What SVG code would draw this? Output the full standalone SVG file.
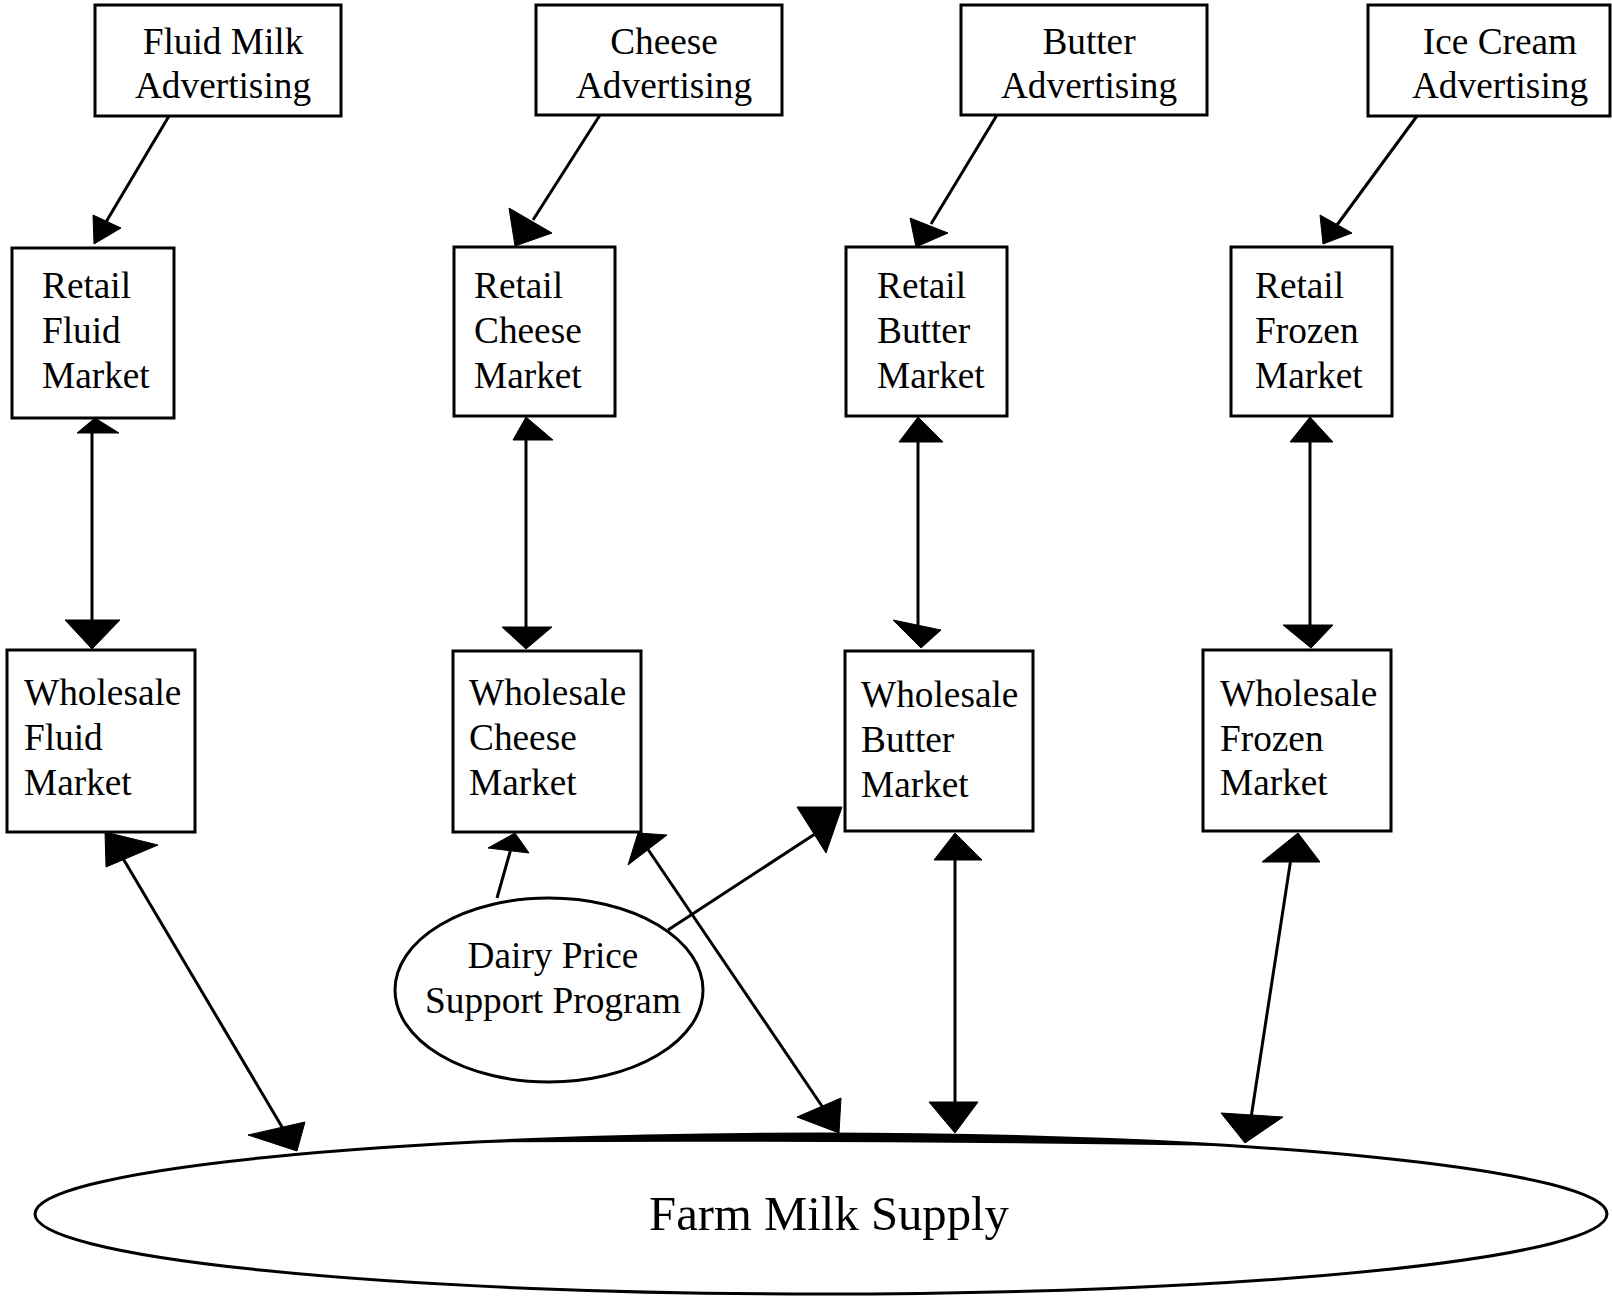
<svg xmlns="http://www.w3.org/2000/svg" width="1612" height="1296" viewBox="0 0 1612 1296">
<style>
.box{fill:#fff;stroke:#000;stroke-width:3}
.ell{fill:#fff;stroke:#000;stroke-width:3}
.t{font-family:"Liberation Serif","Times New Roman",serif;font-size:37.3px;fill:#000}
.c{text-anchor:middle}
.big{font-size:48.7px}
.ln{stroke:#000;stroke-width:3;fill:none}
.hd{fill:#000;stroke:#000;stroke-width:1;stroke-linejoin:round}
</style>
<rect width="1612" height="1296" fill="#fff"/>

<g id="farm">
<ellipse class="ell" cx="821" cy="1214" rx="786" ry="80"/>
<path d="M470,1142.4 A786,80 0 0 1 1235,1146 Q850,1140 470,1142.4 Z" fill="#000"/>
<text class="t c big" x="829" y="1230">Farm Milk Supply</text>
</g>

<g id="adv-fluid">
<rect class="box" x="95" y="5" width="246" height="111"/>
<text class="t c" x="223" y="54">Fluid Milk</text>
<text class="t c" x="223" y="98">Advertising</text>
</g>
<g id="adv-cheese">
<rect class="box" x="536" y="5" width="246" height="110"/>
<text class="t c" x="664" y="54">Cheese</text>
<text class="t c" x="664" y="98">Advertising</text>
</g>
<g id="adv-butter">
<rect class="box" x="961" y="5" width="246" height="110"/>
<text class="t c" x="1089" y="54">Butter</text>
<text class="t c" x="1089" y="98">Advertising</text>
</g>
<g id="adv-icecream">
<rect class="box" x="1368" y="5" width="242" height="111"/>
<text class="t c" x="1500" y="54">Ice Cream</text>
<text class="t c" x="1500" y="98">Advertising</text>
</g>

<g id="retail-fluid">
<rect class="box" x="12" y="248" width="162" height="170"/>
<text class="t" x="42" y="298">Retail</text>
<text class="t" x="42" y="343">Fluid</text>
<text class="t" x="42" y="388">Market</text>
</g>
<g id="retail-cheese">
<rect class="box" x="454" y="247" width="161" height="169"/>
<text class="t" x="474" y="298">Retail</text>
<text class="t" x="474" y="343">Cheese</text>
<text class="t" x="474" y="388">Market</text>
</g>
<g id="retail-butter">
<rect class="box" x="846" y="247" width="161" height="169"/>
<text class="t" x="877" y="298">Retail</text>
<text class="t" x="877" y="343">Butter</text>
<text class="t" x="877" y="388">Market</text>
</g>
<g id="retail-frozen">
<rect class="box" x="1231" y="247" width="161" height="169"/>
<text class="t" x="1255" y="298">Retail</text>
<text class="t" x="1255" y="343">Frozen</text>
<text class="t" x="1255" y="388">Market</text>
</g>

<g id="wholesale-fluid">
<rect class="box" x="7" y="650" width="188" height="182"/>
<text class="t" x="24" y="705">Wholesale</text>
<text class="t" x="24" y="750">Fluid</text>
<text class="t" x="24" y="795">Market</text>
</g>
<g id="wholesale-cheese">
<rect class="box" x="453" y="651" width="188" height="181"/>
<text class="t" x="469" y="705">Wholesale</text>
<text class="t" x="469" y="750">Cheese</text>
<text class="t" x="469" y="795">Market</text>
</g>
<g id="wholesale-butter">
<rect class="box" x="845" y="651" width="188" height="180"/>
<text class="t" x="861" y="707">Wholesale</text>
<text class="t" x="861" y="752">Butter</text>
<text class="t" x="861" y="797">Market</text>
</g>
<g id="wholesale-frozen">
<rect class="box" x="1203" y="650" width="188" height="181"/>
<text class="t" x="1220" y="706">Wholesale</text>
<text class="t" x="1220" y="751">Frozen</text>
<text class="t" x="1220" y="795">Market</text>
</g>

<g id="dairy">
<ellipse class="ell" cx="549" cy="990" rx="154" ry="92"/>
<text class="t c" x="553" y="968">Dairy Price</text>
<text class="t c" x="553" y="1013">Support Program</text>
</g>

<g id="connectors">
<line class="ln" x1="169" y1="116" x2="106" y2="222"/>
<polygon class="hd" points="93,215 121,228 94,244"/>
<line class="ln" x1="600" y1="115" x2="533" y2="220"/>
<polygon class="hd" points="509,208 552,233 515,246"/>
<line class="ln" x1="997" y1="115" x2="931" y2="224"/>
<polygon class="hd" points="910,218 948,233 916,247"/>
<line class="ln" x1="1417" y1="116" x2="1337" y2="225"/>
<polygon class="hd" points="1320,215 1352,233 1323,244"/>

<line class="ln" x1="92" y1="430" x2="92" y2="625"/>
<polygon class="hd" points="95,418 77,433 119,433"/>
<polygon class="hd" points="65,620 120,620 92,649"/>
<line class="ln" x1="526" y1="435" x2="526" y2="630"/>
<polygon class="hd" points="526,417 513,440 553,440"/>
<polygon class="hd" points="502,627 552,627 526,649"/>
<line class="ln" x1="918" y1="437" x2="918" y2="625"/>
<polygon class="hd" points="918,417 899,442 943,442"/>
<polygon class="hd" points="893,620 941,630 921,648"/>
<line class="ln" x1="1310" y1="437" x2="1310" y2="628"/>
<polygon class="hd" points="1310,417 1290,442 1333,442"/>
<polygon class="hd" points="1283,625 1333,625 1311,648"/>

<line class="ln" x1="118" y1="850" x2="285" y2="1132"/>
<polygon class="hd" points="105,832 158,845 106,867"/>
<polygon class="hd" points="248,1135 305,1122 297,1151"/>

<line class="ln" x1="497" y1="898" x2="512" y2="845"/>
<polygon class="hd" points="488,848 529,853 515,833"/>

<line class="ln" x1="645" y1="845" x2="828" y2="1115"/>
<polygon class="hd" points="638,833 667,835 628,865"/>
<polygon class="hd" points="797,1117 841,1098 839,1133"/>

<line class="ln" x1="668" y1="930" x2="818" y2="832"/>
<polygon class="hd" points="797,807 842,807 826,853"/>

<line class="ln" x1="955" y1="855" x2="955" y2="1108"/>
<polygon class="hd" points="955,833 934,860 982,860"/>
<polygon class="hd" points="929,1102 978,1102 955,1133"/>

<line class="ln" x1="1291" y1="858" x2="1251" y2="1118"/>
<polygon class="hd" points="1298,833 1262,862 1320,862"/>
<polygon class="hd" points="1221,1113 1283,1117 1245,1143"/>
</g>
</svg>
